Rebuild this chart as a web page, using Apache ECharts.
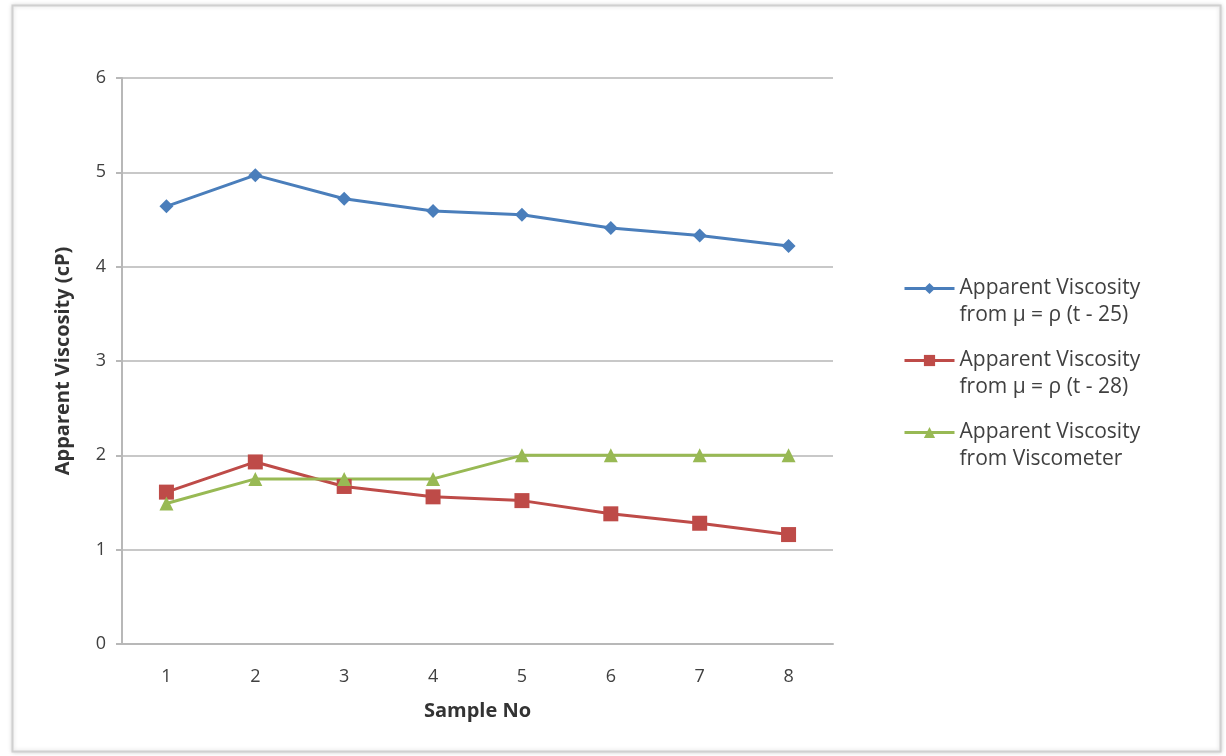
<!DOCTYPE html>
<html><head><meta charset="utf-8">
<script src="https://cdn.jsdelivr.net/npm/echarts@6/dist/echarts.min.js"></script>
<style>html,body{margin:0;padding:0;background:#fff}#c{width:1226px;height:756px}</style>
</head><body><div id="c"></div>
<script>
const categories = ['1','2','3','4','5','6','7','8'];
const seriesNames = ['Apparent Viscosity\nfrom \u03bc = \u03c1 (t - 25)', 'Apparent Viscosity\nfrom \u03bc = \u03c1 (t - 28)', 'Apparent Viscosity\nfrom Viscometer'];
const blueValues = [4.64, 4.97, 4.72, 4.59, 4.55, 4.41, 4.33, 4.22];
const redValues = [1.61, 1.93, 1.67, 1.56, 1.52, 1.38, 1.28, 1.16];
const greenValues = [1.49, 1.75, 1.75, 1.75, 2.0, 2.0, 2.0, 2.0];
const xTitle = 'Sample No';
const yTitle = 'Apparent Viscosity (cP)';

const font = '"Open Sans", "DejaVu Sans", sans-serif';
const chart = echarts.init(document.getElementById('c'));
chart.setOption({
  animation: false,
  backgroundColor: '#fff',
  graphic: [{
    type: 'rect', z: -10,
    shape: {x: 12.5, y: 5.5, width: 1208, height: 746},
    style: {fill: '#fff', stroke: '#d0d0d0', lineWidth: 2, shadowBlur: 4, shadowColor: 'rgba(0,0,0,0.15)'}
  }],
  grid: {left: 122, top: 78, width: 711, height: 566, containLabel: false},
  legend: {
    orient: 'vertical', left: 898, top: 243, itemWidth: 50, itemHeight: 14, itemGap: -9,
    formatter: function (n) { return ' \n' + n; },
    lineStyle: {width: 3},
    textStyle: {fontFamily: font, fontSize: 21, color: '#404040', lineHeight: 27},
    data: seriesNames
  },
  xAxis: {
    type: 'category', data: categories, boundaryGap: true,
    name: xTitle, nameLocation: 'middle', nameGap: 57,
    nameTextStyle: {fontFamily: font, fontSize: 20, fontWeight: 'bold', color: '#333'},
    axisLine: {lineStyle: {color: '#b8b8b8', width: 2}},
    axisTick: {show: false},
    axisLabel: {fontFamily: font, fontSize: 18, color: '#404040', margin: 24}
  },
  yAxis: {
    type: 'value', min: 0, max: 6, interval: 1,
    name: yTitle, nameLocation: 'middle', nameGap: 49, nameRotate: 90,
    nameTextStyle: {fontFamily: font, fontSize: 20, fontWeight: 'bold', color: '#333'},
    axisLine: {show: true, lineStyle: {color: '#b8b8b8', width: 2}},
    axisTick: {show: true, length: 6, lineStyle: {color: '#b8b8b8', width: 2}},
    splitLine: {lineStyle: {color: '#c8c8c8', width: 2}},
    axisLabel: {fontFamily: font, fontSize: 18, color: '#404040', margin: 16}
  },
  series: [
    {name: seriesNames[0], type: 'line', data: blueValues, symbol: 'diamond', symbolSize: 14,
     lineStyle: {color: '#4A7EBB', width: 3}, itemStyle: {color: '#4A7EBB'}},
    {name: seriesNames[1], type: 'line', data: redValues, symbol: 'rect', symbolSize: 15,
     lineStyle: {color: '#BE4B48', width: 3}, itemStyle: {color: '#BE4B48'}},
    {name: seriesNames[2], type: 'line', data: greenValues, symbol: 'triangle', symbolSize: 14,
     lineStyle: {color: '#98B954', width: 3}, itemStyle: {color: '#98B954'}}
  ]
});
</script></body></html>
